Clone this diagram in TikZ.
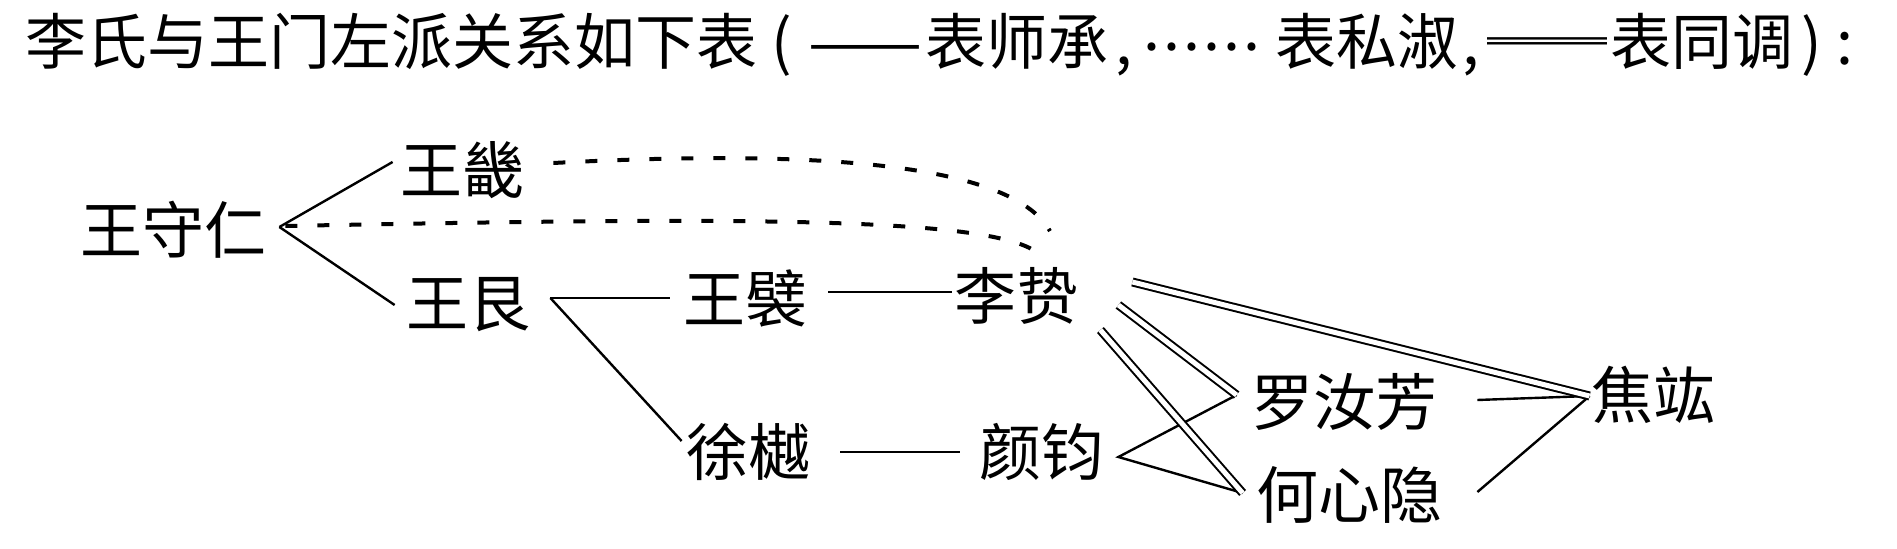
\documentclass[tikz,border=0pt]{standalone}
\usepackage{fontspec}
\newfontfamily\cjk{Noto Sans CJK SC}
\usetikzlibrary{calc}

\tikzset{
    person/.style={inner sep=0pt,font=\cjk\fontsize{31pt}{31pt}\selectfont},
    heading/.style={inner sep=0pt,anchor=west,font=\cjk\fontsize{30.5pt}{30.5pt}\selectfont},
    shicheng/.style={line width=1.2pt},
    sishu/.style={line width=2pt,dash pattern=on 6pt off 10pt},
    tongdiao/.style={double,double distance=2.5pt,line width=1pt}
}
\newcommand{\dotbox}{\makebox[10pt]{.}}

\begin{document}
\begin{tikzpicture}[x=0.5pt,y=-0.5pt]
    \useasboundingbox (0,0) rectangle (1897,549);
    \node[heading] (title) at (25,45) {李氏与王门左派关系如下表\makebox[24pt]{(}\makebox[60pt]{\resizebox{57pt}{\height}{——}}表师承\makebox[16pt]{,}\makebox[67.5pt][l]{\hspace{1pt}\raisebox{7pt}{\dotbox\dotbox\dotbox\dotbox\dotbox\dotbox}}表私淑\makebox[13pt]{,}\makebox[63pt]{\resizebox{60pt}{\height}{══}}表同调\makebox[18.5pt]{)}\makebox[15pt]{:}};

    \node[person] (wsr) at (173,230) {王守仁};
    \node[person] (wj) at (462,170) {王畿};
    \node[person] (wg) at (468,305) {王艮};
    \node[person] (wb) at (745,299) {王襞};
    \node[person] (lz) at (1016,296) {李贽};
    \node[person] (xy) at (748,452) {徐樾};
    \node[person] (yj) at (1041,452) {颜钧};
    \node[person] (lrf) at (1344,402) {罗汝芳};
    \node[person] (hxy) at (1349,495) {何心隐};
    \node[person] (jh) at (1653,395) {焦竑};

    \coordinate (fork1) at ([shift={(13,-3)}]wsr.east);
    \coordinate (fork2) at ([shift={(20,-7)}]wg.east);
    \coordinate (fork3) at ([shift={(15,5)}]yj.east);
    \coordinate (lrfin) at ([shift={(-14,-7)}]lrf.west);
    \coordinate (hxyin) at ([shift={(-13,-2)}]hxy.west);
    \coordinate (jhin) at ([shift={(-1,1)}]jh.west);

    \draw[shicheng] (fork1) -- ([shift={(-7,-8)}]wj.west);
    \draw[shicheng] (fork1) -- ([shift={(-11,0)}]wg.west);
    \draw[shicheng] (fork2) -- ([shift={(-13,-1)}]wb.west);
    \draw[shicheng] (fork2) -- ([shift={(-4,-11)}]xy.west);
    \draw[shicheng] ([shift={(21,-7)}]wb.east) -- ([shift={(-2,-4)}]lz.west);
    \draw[shicheng] ([shift={(30,0)}]xy.east) -- ([shift={(-19,0)}]yj.west);
    \draw[shicheng] (lrfin) -- (fork3) -- (hxyin);
    \draw[shicheng] ([shift={(40,-2)}]lrf.east) -- (jhin);
    \draw[shicheng] ([shift={(35,-3)}]hxy.east) -- (jhin);

    \draw[tongdiao] ([shift={(54,-14)}]lz.east) -- (jhin);
    \draw[tongdiao] ([shift={(40,9)}]lz.east) -- (lrfin);
    \draw[tongdiao] ([shift={(22,34)}]lz.east) -- (hxyin);

    \draw[sishu] ([shift={(29,-7)}]wj.east) .. controls (800,150) and (1010,160) .. ([shift={(34,-36)}]lz.north);
    \draw[sishu] ([shift={(6,-1)}]fork1) .. controls (700,218) and (980,215) .. ([shift={(19,-16)}]lz.north);
\end{tikzpicture}
\end{document}
